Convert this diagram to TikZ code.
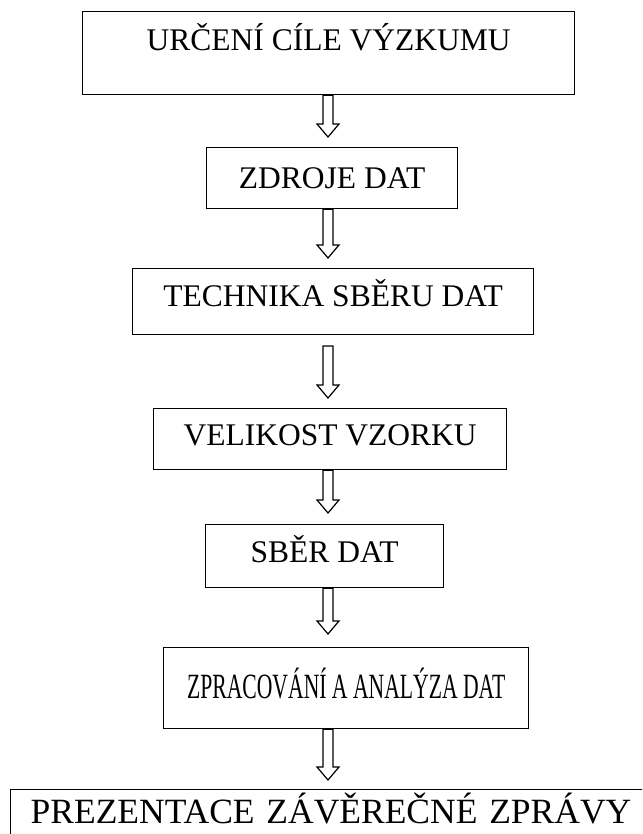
\documentclass[tikz,border=0pt]{standalone}
\usepackage{fontspec}
\setmainfont{Liberation Serif}
\newfontfamily\condensedfont[FakeStretch=0.61]{Liberation Serif}
\usetikzlibrary{calc}
\newcommand\blockarrow[2]{\draw[blockarr] let \p1=(#1), \p2=(#2) in
  (\x1-5pt,\y1) -- (\x1+5pt,\y1) -- (\x1+5pt,\y2+13pt) -- (\x1+11pt,\y2+13pt)
  -- (\x2,\y2) -- (\x1-11pt,\y2+13pt) -- (\x1-5pt,\y2+13pt) -- cycle;}
\begin{document}
\begin{tikzpicture}[x=1pt,y=-1pt,
  box/.style={draw, line width=1.3pt, inner sep=0pt, anchor=north west,
    font=\fontsize{31.5}{36}\selectfont},
  blockarr/.style={draw, line width=1.2pt, line join=miter, fill=white}]
\useasboundingbox (0,0) rectangle (642,834);
\clip (0,0) rectangle (642,834);
\fill[white] (0,0) rectangle (642,834);

\node[box, minimum width=492pt, text height=39pt, text depth=44pt] (b1) at (82,11) {URČENÍ CÍLE VÝZKUMU};
\node[box, minimum width=251pt, text height=41pt, text depth=20pt] (b2) at (206,147) {ZDROJE DAT};
\node[box, minimum width=401pt, text height=38pt, text depth=28pt] (b3) at (132,268) {TECHNIKA SBĚRU DAT};
\node[box, minimum width=353pt, text height=37pt, text depth=24pt] (b4) at (153,408) {VELIKOST VZORKU};
\node[box, minimum width=238pt, text height=38pt, text depth=25pt] (b5) at (205,524) {SBĚR DAT};
\node[box, minimum width=365pt, text height=51pt, text depth=30pt,
  font=\condensedfont\fontsize{35.5}{40}\selectfont] (b6) at (163,647) {ZPRACOVÁNÍ A ANALÝZA DAT};
\node[box, inner xsep=20pt, inner ysep=0pt, text width=680pt, align=left, text height=34pt, text depth=60pt,
  font=\fontsize{35.5}{40}\selectfont] (b7) at (10,789) {PREZENTACE ZÁVĚREČNÉ ZPRÁVY};

\coordinate (t1) at (328,137);
\coordinate (t2) at (328,258);
\coordinate (s3) at (328,346);
\coordinate (t3) at (328,398);
\coordinate (t4) at (328,513);
\coordinate (t5) at (328,634);
\coordinate (t6) at (328,780);

\blockarrow{b1.south -| t1}{t1}
\blockarrow{b2.south -| t2}{t2}
\blockarrow{s3}{t3}
\blockarrow{b4.south -| t4}{t4}
\blockarrow{b5.south -| t5}{t5}
\blockarrow{b6.south -| t6}{t6}
\end{tikzpicture}
\end{document}
